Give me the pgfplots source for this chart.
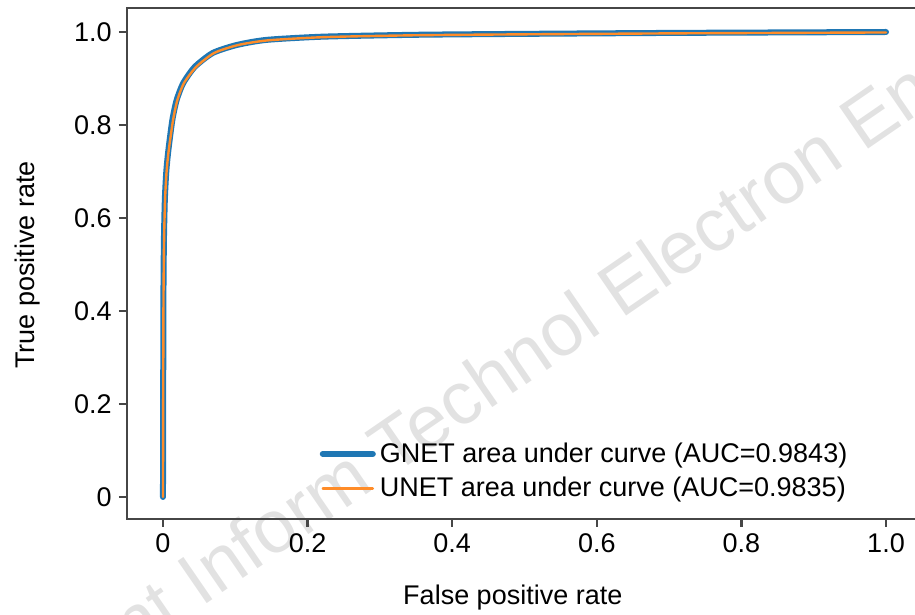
\documentclass[border=0pt]{standalone}
\usepackage{pgfplots}
\pgfplotsset{compat=1.18}
\usetikzlibrary{backgrounds}
\usepackage{fontspec}
\setmainfont{Liberation Sans}
\definecolor{gblue}{RGB}{31,119,180}
\definecolor{uorange}{RGB}{255,140,40}
\definecolor{axgray}{RGB}{70,70,70}
\definecolor{wmgray}{RGB}{226,226,226}
\begin{document}
\begin{tikzpicture}
\begin{axis}[
  scale only axis,
  width=397.65pt, height=255.4pt,
  xmin=-0.05, xmax=1.05, ymin=-0.047, ymax=1.0516,
  axis line style={axgray, line width=1.2pt},
  tick style={axgray, line width=1.2pt},
  tick align=outside, major tick length=4pt,
  xtick={0,0.2,0.4,0.6,0.8,1.0},
  xticklabels={0,0.2,0.4,0.6,0.8,1.0},
  ytick={0,0.2,0.4,0.6,0.8,1.0},
  yticklabels={0,0.2,0.4,0.6,0.8,1.0},
  xtick pos=bottom, ytick pos=left,
  ticklabel style={font=\fontsize{13.5}{16}\selectfont},
  /pgf/number format/assume math mode=true,
  xlabel={False positive rate}, ylabel={True positive rate},
  label style={font=\fontsize{13.5}{16}\selectfont},
  xlabel style={at={(rel axis cs:0.4853,-0.1546)}, anchor=center},
  ylabel style={at={(rel axis cs:-0.1245,0.497)}, anchor=center},
  legend style={at={(axis cs:0.208,0.135)}, anchor=north west, draw=none, fill=none,
    font=\fontsize{13.5}{16}\selectfont, row sep=2pt},
  legend cell align=left,
  legend image code/.code={\draw[#1] (0cm,0cm) -- (0.88cm,0cm);},
  clip=false,
]
\addplot[gblue, line width=3pt, line cap=round, smooth, tension=0.4] coordinates {
(0,0) (0.0003,0.2) (0.0006,0.42) (0.0013,0.55) (0.0026,0.64) (0.0046,0.70)
(0.0075,0.746) (0.013,0.811) (0.019,0.854) (0.028,0.89) (0.044,0.925)
(0.069,0.955) (0.102,0.972) (0.143,0.983) (0.222,0.990) (0.35,0.994)
(0.5,0.996) (0.7,0.998) (0.85,0.999) (1,1)};
\addlegendentry{GNET area under curve (AUC=0.9843)}
\addplot[uorange, line width=1.2pt, line cap=round, smooth, tension=0.4] coordinates {
(0,0) (0.0003,0.2) (0.0007,0.42) (0.0015,0.55) (0.0029,0.64) (0.005,0.70)
(0.008,0.746) (0.014,0.811) (0.020,0.854) (0.029,0.89) (0.046,0.925)
(0.071,0.955) (0.104,0.972) (0.145,0.982) (0.224,0.989) (0.35,0.993)
(0.5,0.995) (0.7,0.997) (0.85,0.998) (1,0.999)};
\addlegendentry{UNET area under curve (AUC=0.9835)}
\coordinate (bl) at (axis cs:-0.2254,-0.2538);
\coordinate (tr) at (axis cs:1.0401,1.0688);
\end{axis}
\begin{scope}[on background layer]
\path (bl) ++(20.5pt,-51.5pt) node[rotate=34.5, anchor=base west, text=wmgray,
  font=\fontsize{37.25}{40}\selectfont, inner sep=0pt]
  {Front Inform Technol Electron Eng};
\end{scope}
\pgfresetboundingbox
\useasboundingbox (bl) rectangle (tr);
\end{tikzpicture}
\end{document}
